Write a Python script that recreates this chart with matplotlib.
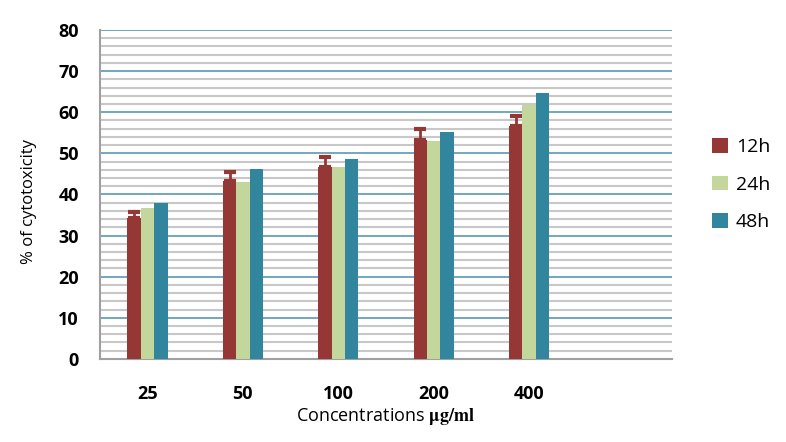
import numpy as np
import matplotlib.pyplot as plt
from matplotlib.ticker import MultipleLocator

concentrations = ['25', '50', '100', '200', '400', '']
h12 = [34.2, 43.3, 46.8, 53.3, 56.6]
h12_err = [1.6, 2.1, 2.2, 2.6, 2.4]
h24 = [36.8, 43.1, 46.7, 53.0, 61.8]
h48 = [38.0, 46.2, 48.7, 55.3, 64.6]

red = '#953735'
green = '#c3d69b'
blue = '#31859c'

plt.rcParams['font.family'] = ['Open Sans', 'DejaVu Sans']
plt.rcParams['mathtext.fontset'] = 'stix'

fig = plt.figure(figsize=(7.86, 4.42), dpi=100)
ax = fig.add_axes([0.127, 0.188, 0.728, 0.744])

x = np.arange(len(h12))
w = 0.14
ax.bar(x - w, h12, w, color=red, label='12h', zorder=3,
       yerr=[np.zeros(len(h12_err)), h12_err],
       error_kw=dict(ecolor=red, elinewidth=2, capsize=4, capthick=3))
ax.bar(x, h24, w, color=green, label='24h', zorder=3)
ax.bar(x + w, h48, w, color=blue, label='48h', zorder=3)

ax.set_xlim(-0.5, len(concentrations) - 0.5)
ax.set_ylim(0, 80)
ax.set_xticks(range(len(concentrations)))
ax.set_xticklabels(concentrations, fontsize=13, fontweight='bold')
ax.yaxis.set_major_locator(MultipleLocator(10))
ax.yaxis.set_minor_locator(MultipleLocator(2))
for lab in ax.get_yticklabels():
    lab.set_fontsize(13)
    lab.set_fontweight('bold')
ax.tick_params(axis='both', which='both', length=0)
ax.tick_params(axis='x', pad=19)
ax.tick_params(axis='y', pad=15)

ax.grid(axis='y', which='minor', color='#c8c8c8', linewidth=1.5, zorder=0)
ax.grid(axis='y', which='major', color='#5a9ab2', linewidth=1.2, zorder=1)

for s in ['top', 'right']:
    ax.spines[s].set_visible(False)
ax.spines['left'].set_color('#a0a0a0')
ax.spines['bottom'].set_color('#a0a0a0')
ax.spines['left'].set_linewidth(1.5)
ax.spines['bottom'].set_linewidth(1.5)

ax.set_ylabel('% of cytotoxicity', fontsize=12)
ax.yaxis.set_label_coords(-0.11, 0.48)
ax.set_xlabel(r'Concentrations $\mathbf{\mu g/ml}$', fontsize=13, labelpad=2)

leg = ax.legend(loc='center left', bbox_to_anchor=(1.04, 0.53), frameon=False,
                fontsize=14, handlelength=0.8, handleheight=0.8,
                handletextpad=0.4, labelspacing=1.0)

fig.savefig('out.png', dpi=100)
